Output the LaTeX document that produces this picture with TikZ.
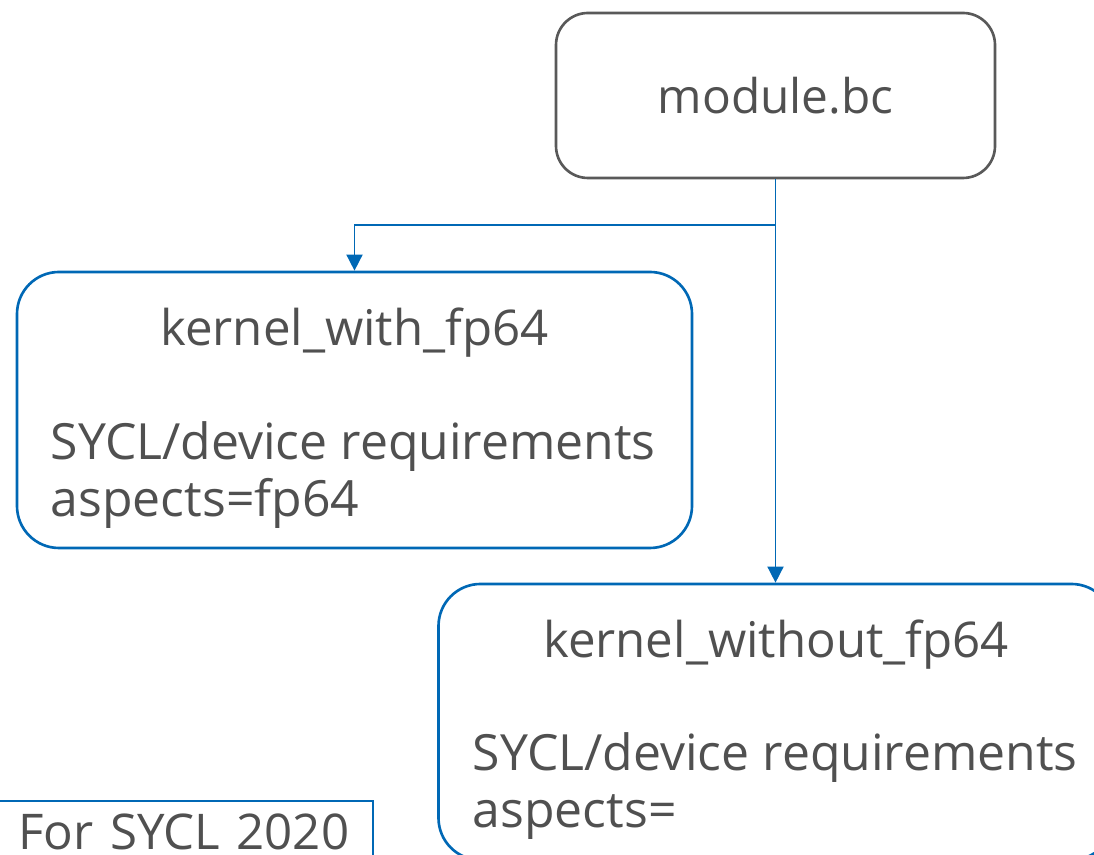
\documentclass[tikz,border=0pt]{standalone}
\usepackage{fontspec}
\setmainfont{Open Sans}
\usepackage{tikz}
\usetikzlibrary{positioning,arrows.meta}
\definecolor{boxblue}{HTML}{0068B5}
\definecolor{boxgray}{HTML}{595959}
\definecolor{txtgray}{HTML}{505050}
\tikzset{
    srcbox/.style={draw=boxgray, line width=0.75pt, rounded corners=0.32cm, text=txtgray},
    kernbox/.style={draw=boxblue, line width=0.75pt, rounded corners=0.42cm,
        minimum width=6.75cm, minimum height=2.76cm},
    conn/.style={draw=boxblue, line width=0.45pt, -{Triangle[width=4.6pt,length=4.6pt]}},
    ktitle/.style={text=txtgray, font=\fontsize{14}{16}\selectfont},
    kbody/.style={text=txtgray, align=left, font=\fontsize{14.2}{16.2}\selectfont, inner sep=0pt},
}
\begin{document}
\begin{tikzpicture}
\useasboundingbox (0,0) rectangle (10.94,8.55);
\clip (0,0) rectangle (10.94,8.55);
\node[srcbox, minimum width=4.39cm, minimum height=1.65cm,
    font=\fontsize{13.6}{15}\selectfont] (module) at (7.755,7.595) {module.bc};

\node[kernbox] (kwith) at (3.545,4.45) {};
\node[ktitle, below=0.25cm of kwith.north] (kwithT) {kernel\_with\_fp64};
\node[kbody, anchor=north west] (kwithB) at (0.50,4.34)
    {SYCL/device requirements\\aspects=fp64};

\node[kernbox] (kwithout) at (7.76,1.33) {};
\node[ktitle, below=0.25cm of kwithout.north] (kwithoutT) {kernel\_without\_fp64};
\node[kbody, anchor=north west] (kwithoutB) at (4.72,1.23)
    {SYCL/device requirements\\aspects=};

\node[draw=boxblue, line width=0.45pt, anchor=north east, inner xsep=0.24cm,
    inner ysep=0.13cm, text height=0.36cm, text=txtgray,
    font=\fontsize{14}{16}\selectfont, align=right, text width=3.9cm]
    (note) at (3.74,0.55) {For SYCL 2020};

% connectors
\coordinate (split) at (module.south |- 0,6.30);
\draw[conn] (module.south) -- (module.south |- kwithout.north);
\draw[conn] (split) -| (kwith.north);
\end{tikzpicture}
\end{document}
